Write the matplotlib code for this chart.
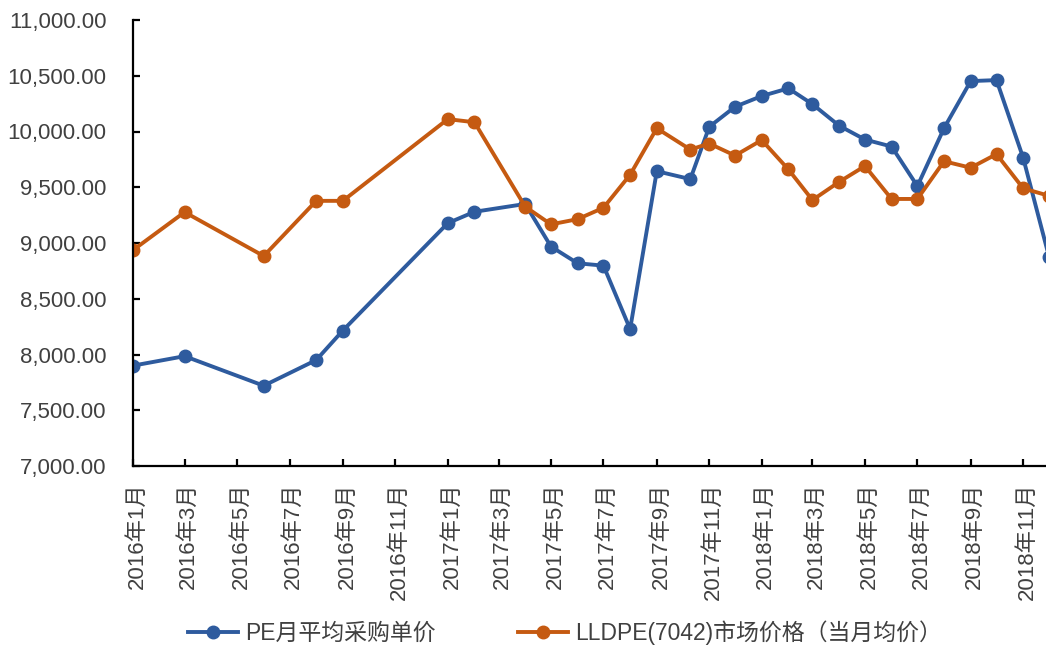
import numpy as np
import pandas as pd
import matplotlib
matplotlib.use("Agg")
import matplotlib.pyplot as plt
import matplotlib.dates as mdates
import matplotlib.ticker as mticker
from matplotlib.transforms import ScaledTranslation

plt.rcParams['font.family'] = ['Liberation Sans', 'Noto Sans CJK SC', 'DejaVu Sans']

# monthly observations (Oct 2017 was recorded mid-month)
dates = ["2016-01-01", "2016-03-01", "2016-06-01", "2016-08-01", "2016-09-01",
         "2017-01-01", "2017-02-01", "2017-04-01", "2017-05-01", "2017-06-01",
         "2017-07-01", "2017-08-01", "2017-09-01", "2017-10-10", "2017-11-01",
         "2017-12-01", "2018-01-01", "2018-02-01", "2018-03-01", "2018-04-01",
         "2018-05-01", "2018-06-01", "2018-07-01", "2018-08-01", "2018-09-01",
         "2018-10-01", "2018-11-01", "2018-12-01"]
pe_price = [7900, 7985, 7720, 7950, 8215,
            9178, 9280, 9350, 8968, 8818,
            8797, 8228, 9644, 9573, 10042,
            10222, 10318, 10387, 10245, 10052,
            9928, 9865, 9510, 10030, 10452,
            10461, 9764, 8878]
lldpe_price = [8936, 9277, 8883, 9378, 9378,
               10111, 10083, 9326, 9167, 9214,
               9316, 9612, 10029, 9838, 9892,
               9784, 9923, 9660, 9385, 9548,
               9690, 9395, 9395, 9733, 9675,
               9797, 9490, 9423]
labels = ["PE月平均采购单价", "LLDPE(7042)市场价格（当月均价）"]
tick_months = pd.date_range("2016-01-01", "2018-11-01", freq="2MS")

blue = "#2E5B9E"
orange = "#C55A11"
grey = "#404040"

x = pd.to_datetime(dates)

fig = plt.figure(figsize=(10.46, 6.45), dpi=100)
ax = fig.add_axes([133/1046, 179/645, 965/1046, 446/645])

ax.plot(x, pe_price, color=blue, lw=2.8, marker="o", ms=9, label=labels[0])
ax.plot(x, lldpe_price, color=orange, lw=2.8, marker="o", ms=9, label=labels[1])

ax.set_ylim(7000, 11000)
ax.yaxis.set_major_locator(mticker.MultipleLocator(500))
ax.yaxis.set_major_formatter(mticker.FuncFormatter(lambda v, p: f"{v:,.2f}"))

ax.set_xlim(pd.Timestamp("2016-01-01"), pd.Timestamp("2016-01-01") + pd.Timedelta(days=1122))
ax.set_xticks(tick_months)
ax.set_xticklabels([f"{d.year}年{d.month}月" for d in tick_months])

for s in ["top", "right"]:
    ax.spines[s].set_visible(False)
for s in ["left", "bottom"]:
    ax.spines[s].set_linewidth(1.6)
    ax.spines[s].set_color("black")

ax.tick_params(axis="y", direction="in", length=5, width=1.6, pad=19,
               labelsize=16, labelcolor=grey)
ax.tick_params(axis="x", direction="in", length=5, width=1.6, pad=12,
               labelsize=16, labelcolor=grey, labelrotation=90)
shift = ScaledTranslation(4/100, 0, fig.dpi_scale_trans)
for t in ax.get_xticklabels():
    t.set_transform(t.get_transform() + shift)

fig.legend(loc="center", bbox_to_anchor=(0.54, 0.019), ncol=2, frameon=False,
           fontsize=16.5, handlelength=2.2, columnspacing=3.6, handletextpad=0.3,
           labelcolor=grey)

fig.savefig("out.png", dpi=100)
